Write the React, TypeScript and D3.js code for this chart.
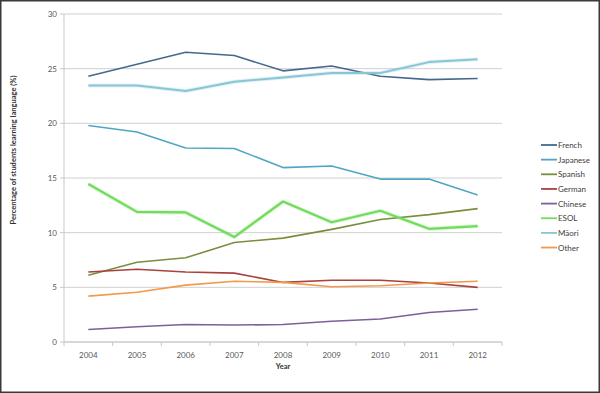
import React from 'react';
import { scaleBand, scaleLinear, line } from 'd3';

const years = ['2004', '2005', '2006', '2007', '2008', '2009', '2010', '2011', '2012'];
const yTicks = [0, 5, 10, 15, 20, 25, 30];

const french = [24.3, 25.4, 26.5, 26.2, 24.8, 25.25, 24.3, 24.0, 24.1];
const japanese = [19.8, 19.2, 17.75, 17.7, 15.95, 16.1, 14.9, 14.9, 13.45];
const spanish = [6.1, 7.3, 7.7, 9.1, 9.5, 10.3, 11.2, 11.65, 12.2];
const german = [6.4, 6.65, 6.4, 6.3, 5.45, 5.65, 5.65, 5.4, 5.0];
const chinese = [1.15, 1.4, 1.6, 1.55, 1.6, 1.9, 2.1, 2.7, 3.0];
const esol = [14.45, 11.9, 11.85, 9.6, 12.85, 10.95, 12.0, 10.35, 10.6];
const maori = [23.45, 23.45, 22.95, 23.8, 24.2, 24.6, 24.6, 25.6, 25.85];
const other = [4.2, 4.55, 5.2, 5.55, 5.45, 5.05, 5.15, 5.4, 5.55];

const seriesNames = ['French', 'Japanese', 'Spanish', 'German', 'Chinese', 'ESOL', 'Māori', 'Other'];
const seriesValues = [french, japanese, spanish, german, chinese, esol, maori, other];
const seriesColors = ['#46698b', '#4fa6c3', '#7a8f3e', '#a8423f', '#7b6199', '#6fdc5a', '#88c6d6', '#f2994a'];
const seriesWidths = [1.6, 1.6, 1.6, 1.6, 1.6, 2.2, 2.0, 1.6];

const App = () => {
	const W = 600;
	const H = 393;
	const left = 64;
	const right = 502;
	const top = 14;
	const bottom = 342;

	const x = scaleBand().domain(years).range([left, right]);
	const y = scaleLinear().domain([0, 30]).range([bottom, top]);
	const cx = (d: string) => (x(d) as number) + x.bandwidth() / 2;

	const font = 'Lato, "Open Sans", sans-serif';

	return (
		<div style={{ position: 'fixed', left: 0, top: 0 }}>
			<svg width={W} height={H} style={{ display: 'block', background: '#fff' }}>
				<rect x={0.75} y={0.75} width={W - 1.5} height={H - 1.5} fill="#fff" stroke="#3a3a3a" strokeWidth={1.5} />

				{/* grid */}
				{yTicks.map((t) => (
					<line key={t} x1={left} x2={right} y1={y(t)} y2={y(t)} stroke="#d0d0d0" strokeWidth={1} />
				))}

				{/* y axis */}
				<line x1={left} x2={left} y1={top} y2={bottom} stroke="#c8c8c8" />
				{yTicks.map((t) => (
					<g key={'yt' + t}>
						<line x1={left - 4} x2={left} y1={y(t)} y2={y(t)} stroke="#c8c8c8" />
						<text x={left - 7} y={y(t) + 3} textAnchor="end" fontSize={8} fill="#595959" fontFamily={font}>
							{t}
						</text>
					</g>
				))}

				{/* x axis */}
				<line x1={left} x2={right} y1={bottom} y2={bottom} stroke="#c8c8c8" />
				{years.map((d, i) => (
					<g key={d}>
						<line x1={(x(d) as number) + x.bandwidth()} x2={(x(d) as number) + x.bandwidth()} y1={bottom} y2={bottom + 4} stroke="#c8c8c8" />
						{i === 0 && <line x1={left} x2={left} y1={bottom} y2={bottom + 4} stroke="#c8c8c8" />}
						<text x={cx(d)} y={bottom + 16} textAnchor="middle" fontSize={8} fill="#595959" fontFamily={font}>
							{d}
						</text>
					</g>
				))}

				<text x={(left + right) / 2} y={bottom + 27} textAnchor="middle" fontSize={7.5} fontWeight="bold" fill="#333" fontFamily={font}>
					Year
				</text>
				<text
					transform={`translate(16, 150) rotate(-90)`}
					textAnchor="middle"
					fontSize={7.5}
					fontWeight="bold"
					fill="#333"
					fontFamily={font}>
					Percentage of students learning language (%)
				</text>

				{/* lines */}
				{seriesValues.map((vals, si) => {
					const gen = line<number>()
						.x((_, i) => cx(years[i]))
						.y((v) => y(v));
					return (
						<g key={seriesNames[si]}>
							{seriesWidths[si] > 1.8 && (
								<path d={gen(vals) || ''} fill="none" stroke={seriesColors[si]} strokeOpacity={0.25} strokeWidth={4} strokeLinejoin="round" />
							)}
							<path d={gen(vals) || ''} fill="none" stroke={seriesColors[si]} strokeWidth={seriesWidths[si]} strokeLinejoin="round" />
						</g>
					);
				})}

				{/* legend */}
				{seriesNames.map((n, i) => (
					<g key={'lg' + n} transform={`translate(541, ${145 + i * 14.65})`}>
						<line x1={0} x2={16} y1={0} y2={0} stroke={seriesColors[i]} strokeWidth={1.8} />
						<text x={17} y={3} fontSize={8} fill="#404040" fontFamily={font}>
							{n}
						</text>
					</g>
				))}
			</svg>
		</div>
	);
};

export default App;
